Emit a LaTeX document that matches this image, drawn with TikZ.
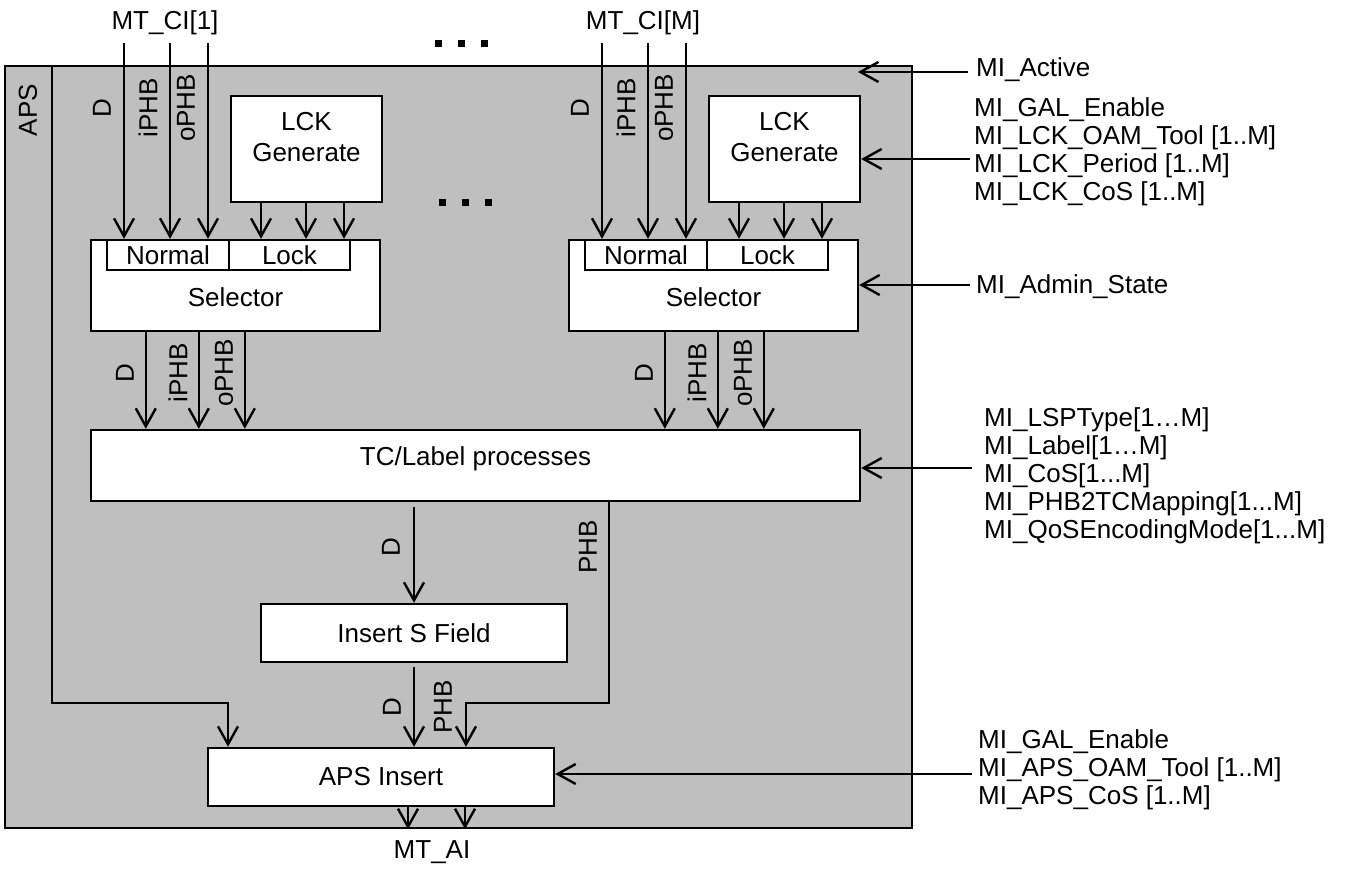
\documentclass[tikz,border=0pt]{standalone}
\usepackage{fontspec}
\setmainfont{Liberation Sans}
\usetikzlibrary{arrows.meta}

\begin{document}
\begin{tikzpicture}[
    x=0.5pt, y=-0.5pt,
    line width=1.2pt,
    >={Straight Barb[length=9pt,width=10pt]},
    every node/.style={font=\fontsize{13}{14}\selectfont, inner sep=0pt},
    box/.style={draw, fill=white, align=center},
    sig/.style={rotate=90},
    milist/.style={anchor=west, align=left}
]
\useasboundingbox (0,0) rectangle (1348,870);

% APS function boundary
\node[draw, fill=black!25, minimum width=453.5pt, minimum height=381pt] (aps) at (458.5,447) {};
\node[sig] (apslbl) at (28,110) {APS};
\coordinate (apstop) at (52,66);

\node[box, minimum width=384.5pt, minimum height=35.5pt, text depth=9pt] (tc) at (475.5,465.5) {TC/Label processes};
\node[box, minimum width=153pt, minimum height=29pt] (ins) at (414,633) {Insert S Field};
\node[box, minimum width=173pt, minimum height=29pt] (apsins) at (381,777) {APS Insert};

% one block per MT_CI input
\foreach \k/\dx/\ox in {1/0/147, M/478/666} {
    \node (ci\k) at (165+\dx,23) {MT\_CI[\k]};
    \node[box, minimum width=75.5pt, minimum height=53pt] (lck\k) at (306.5+\dx,149) {};
    \node[align=center] (lcktxt\k) at (306.5+\dx,137) {LCK\\[1.5pt]Generate};
    \node[box, minimum width=144.5pt, minimum height=45.5pt, text height=21pt] (sel\k) at (235.5+\dx,285.5) {Selector};
    \node[box, minimum width=61pt, minimum height=15pt] (nrm\k) at (168+\dx,255) {Normal};
    \node[box, minimum width=60.5pt, minimum height=15pt] (lk\k) at (289.5+\dx,255) {Lock};
    \foreach \x/\lbl [count=\i] in {124/D, 170/iPHB, 208/oPHB} {
        \coordinate (in\k\i) at (\x+\dx,43);
        \draw[->] (in\k\i) -- (in\k\i |- sel\k.north);
        \node[sig] (lin\k\i) at (\x+\dx-22,108) {\lbl};
    }
    \foreach \x [count=\i] in {-45.5, -0.5, 37.5} {
        \path (lck\k.south) ++(\x,0) coordinate (gen\k\i);
        \draw[->] (gen\k\i) -- (gen\k\i |- sel\k.north);
    }
    \foreach \x/\lbl [count=\i] in {0/D, 53/iPHB, 99/oPHB} {
        \path (sel\k.south -| tc.west) ++(\ox+\x-91,0) coordinate (out\k\i);
        \draw[->] (out\k\i) -- (out\k\i |- tc.north);
        \node[sig] (lout\k\i) at (\ox+\x-22,373) {\lbl};
    }
}

% dots between the blocks
\foreach \x in {435,458,481} \fill (\x,40) rectangle ++(7,7);
\foreach \x in {439,462,485} \fill (\x,199) rectangle ++(7,7);

% towards APS Insert
\draw[->, shorten <=2.5pt] (tc.south -| ins.north) -- (ins.north);
\node[sig] (dtc) at (391,547) {D};
\coordinate (phbturn) at (609,703);
\path (apsins.north) ++(85,0) coordinate (apsphb);
\draw[->] (tc.south -| phbturn) -- (phbturn) -| (apsphb);
\node[sig] (phbtc) at (588,547) {PHB};
\draw[->, shorten <=2pt] (ins.south) -- (ins.south |- apsins.north);
\node[sig] (dins) at (392,707) {D};
\node[sig] (phbins) at (443,707) {PHB};
\path (apsins.north) ++(-153,0) coordinate (apsact);
\draw[->] (apstop) |- (apsact |- phbturn) -- (apsact);
\foreach \x [count=\i] in {27,84} {
    \path (apsins.south) ++(\x,0) coordinate (ai\i);
    \draw[->] (ai\i) -- (ai\i |- aps.south);
}
\node (mtai) at (432,852) {MT\_AI};

% management inputs
\node[milist] (miact) at (975,70) {MI\_Active};
\node[milist] (milck) at (973,152) {MI\_GAL\_Enable\\MI\_LCK\_OAM\_Tool [1..M]\\MI\_LCK\_Period [1..M]\\MI\_LCK\_CoS [1..M]};
\node[milist] (miadm) at (975,287) {MI\_Admin\_State};
\node[milist] (mitc) at (983,476) {MI\_LSPType[1…M]\\MI\_Label[1…M]\\MI\_CoS[1...M]\\MI\_PHB2TCMapping[1...M]\\MI\_QoSEncodingMode[1...M]};
\node[milist] (miaps) at (977,770) {MI\_GAL\_Enable\\MI\_APS\_OAM\_Tool [1..M]\\MI\_APS\_CoS [1..M]};
\coordinate (actsrc) at (968,72);
\coordinate (actin) at (858,72);
\coordinate (lcksrc) at (970,159);
\coordinate (admsrc) at (970,285);
\coordinate (tcsrc) at (972,468);
\coordinate (apssrc) at (972,774);
\draw[->] (actsrc) -- (actin);
\draw[->] (lcksrc) -- (lcksrc -| lckM.east);
\draw[->] (admsrc) -- (admsrc -| selM.east);
\draw[->] (tcsrc) -- (tcsrc -| tc.east);
\draw[->] (apssrc) -- (apssrc -| apsins.east);
\end{tikzpicture}
\end{document}
